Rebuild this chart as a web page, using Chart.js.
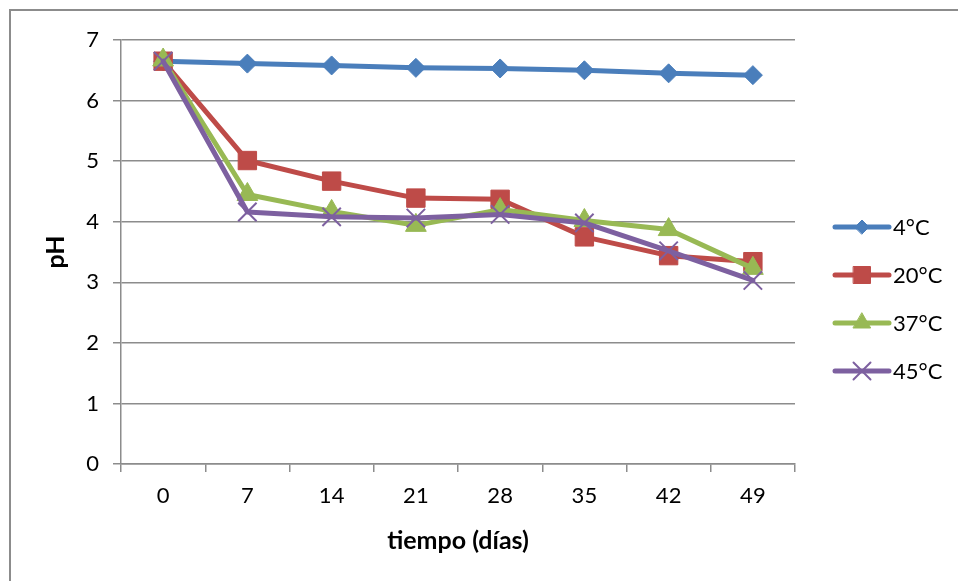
<!DOCTYPE html>
<html lang="es">
<head>
<meta charset="utf-8">
<title>pH frente al tiempo</title>
<script src="https://cdn.jsdelivr.net/npm/chart.js@4/dist/chart.umd.min.js"></script>
<style>
  html, body { margin: 0; padding: 0; background: #fff; overflow: hidden; }
  #wrap { position: relative; width: 958px; height: 581px; }
  #frame { position: absolute; left: 9px; top: 9px; width: 980px; height: 600px;
           border-left: 2px solid #8c8c8c; border-top: 2px solid #8c8c8c; box-sizing: border-box; }
  canvas { position: absolute; left: 0; top: 0; }
</style>
</head>
<body>
<div id="wrap">
  <div id="frame"></div>
  <canvas id="chart" width="958" height="581"></canvas>
</div>
<script>
// Storage time in days
const days = ['0', '7', '14', '21', '28', '35', '42', '49'];

// pH readings per storage temperature
const ph4  = [6.65, 6.61, 6.58, 6.54, 6.53, 6.50, 6.45, 6.42];
const ph20 = [6.65, 5.01, 4.67, 4.39, 4.37, 3.75, 3.44, 3.34];
const ph37 = [6.67, 4.45, 4.17, 3.94, 4.20, 4.02, 3.87, 3.23];
const ph45 = [6.65, 4.16, 4.08, 4.06, 4.12, 3.98, 3.52, 3.03];

const seriesNames = ['4°C', '20°C', '37°C', '45°C'];
const yTicks = [0, 1, 2, 3, 4, 5, 6, 7];

const FONT = 'Lato, "Open Sans", sans-serif';
const GRID = '#8c8c8c';

const styles = [
  { color: '#4A7EBB', point: 'rectRot',  radius: 9.5, legendRadius: 7,  bw: 1 },
  { color: '#BE4B48', point: 'rect',     radius: 13,  legendRadius: 12, bw: 1 },
  { color: '#98B954', point: 'triangle', radius: 12,  legendRadius: 10, bw: 1 },
  { color: '#7D60A0', point: 'crossRot', radius: 13,  legendRadius: 12, bw: 2 }
];

const values = [ph4, ph20, ph37, ph45];

const datasets = values.map((v, i) => ({
  label: seriesNames[i],
  data: v,
  borderColor: styles[i].color,
  backgroundColor: styles[i].color,
  borderWidth: 5,
  borderJoinStyle: 'round',
  borderCapStyle: 'round',
  pointStyle: styles[i].point,
  pointRadius: styles[i].radius,
  pointBackgroundColor: styles[i].color,
  pointBorderColor: styles[i].color,
  pointBorderWidth: styles[i].bw,
  tension: 0,
  // later series are painted over earlier ones
  order: values.length - 1 - i
}));

// Legend at the right: a short line with the series marker, then the name
const sideLegend = {
  id: 'sideLegend',
  afterDraw(chart) {
    const ctx = chart.ctx;
    const x0 = 835, x1 = 889, textX = 893;
    const top = 227, step = 48;
    ctx.save();
    chart.data.datasets.forEach((ds, i) => {
      const st = styles[i];
      const y = top + i * step;
      ctx.strokeStyle = st.color;
      ctx.lineWidth = 5;
      ctx.lineCap = 'round';
      ctx.beginPath();
      ctx.moveTo(x0, y);
      ctx.lineTo(x1, y);
      ctx.stroke();
      ctx.fillStyle = st.color;
      ctx.strokeStyle = st.color;
      ctx.lineWidth = st.bw;
      Chart.helpers.drawPoint(ctx, {
        pointStyle: st.point, radius: st.legendRadius, rotation: 0, borderWidth: st.bw
      }, (x0 + x1) / 2, y);
      ctx.fillStyle = '#000';
      ctx.font = '22px ' + FONT;
      ctx.textAlign = 'left';
      ctx.textBaseline = 'middle';
      ctx.fillText(ds.label, textX, y + 1);
    });
    ctx.restore();
  }
};

new Chart(document.getElementById('chart'), {
  type: 'line',
  data: { labels: days, datasets },
  options: {
    responsive: false,
    animation: false,
    devicePixelRatio: 1,
    layout: { padding: { top: 40, right: 163, left: 0, bottom: 0 } },
    plugins: { legend: { display: false }, tooltip: { enabled: false } },
    scales: {
      x: {
        type: 'category',
        offset: true,
        grid: { offset: true, drawOnChartArea: false, drawTicks: true, tickLength: 8, color: GRID, lineWidth: 1.5 },
        border: { display: true, color: GRID, width: 1.5 },
        ticks: { color: '#000', padding: 11, font: { family: FONT, size: 22 } },
        title: { display: true, text: 'tiempo (días)', color: '#000',
                 font: { family: FONT, size: 25, weight: 'bold' }, padding: { top: 0, bottom: 25 } },
        afterFit(scale) { scale.height = 117; }
      },
      y: {
        min: 0,
        max: 7,
        afterBuildTicks(scale) { scale.ticks = yTicks.map(v => ({ value: v })); },
        grid: { color: GRID, lineWidth: 1.5, tickLength: 8, drawTicks: true },
        border: { display: true, color: GRID, width: 1.5 },
        ticks: { color: '#000', padding: 14, font: { family: FONT, size: 22 } },
        title: { display: true, text: 'pH', color: '#000',
                 font: { family: FONT, size: 25, weight: 'bold' }, padding: { top: 41, bottom: 0 } },
        afterFit(scale) { scale.width = 121; }
      }
    }
  },
  plugins: [sideLegend]
});
</script>
</body>
</html>
